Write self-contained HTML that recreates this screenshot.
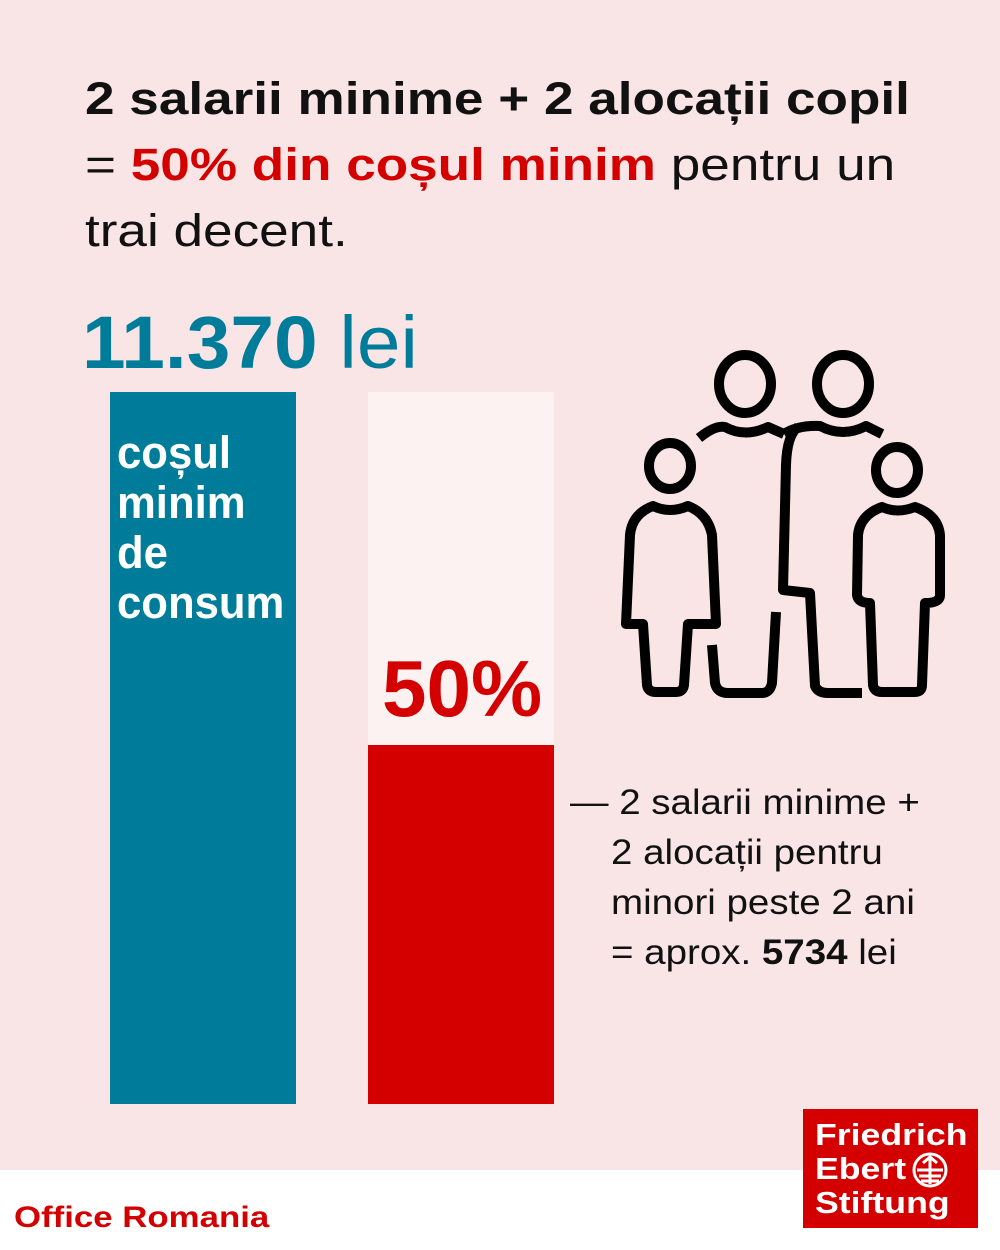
<!DOCTYPE html>
<html><head><meta charset="utf-8"><style>
body{margin:0;width:1000px;height:1250px;position:relative;background:#fff;font-family:"Liberation Sans",sans-serif;overflow:hidden}
.bg{position:absolute;left:0;top:0;width:1000px;height:1170px;background:#f9e5e5}
.a{position:absolute;white-space:nowrap;transform-origin:0 0}
</style></head><body>
<div class="bg"></div>
<div class="a" style="left:85px;top:66px;font-size:45px;line-height:66px;color:#111;transform:scaleX(1.18)">
<b>2 salarii minime + 2 alocații copil</b><br>= <b style="color:#d40000">50% din coșul minim</b> pentru un<br>trai decent.</div>
<div class="a" style="left:82px;top:300px;font-size:74px;line-height:86px;color:#007c9b;transform:scaleX(1.06)"><b>11.370</b> lei</div>
<div class="a" style="left:110px;top:392px;width:186px;height:712px;background:#007c9b"></div>
<div class="a" style="left:117px;top:428px;font-size:45px;line-height:50px;color:#fff;font-weight:bold;transform:scaleX(0.97)">coșul<br>minim<br>de<br>consum</div>
<div class="a" style="left:368px;top:392px;width:186px;height:353px;background:#fdf2f2"></div>
<div class="a" style="left:368px;top:745px;width:186px;height:359px;background:#d40000"></div>
<div class="a" style="left:382px;top:644px;font-size:80px;line-height:90px;color:#d40000;font-weight:bold">50%</div>
<div class="a" style="left:570px;top:778px;font-size:35px;line-height:50px;color:#111;transform:scaleX(1.1)">— 2 salarii minime +</div>
<div class="a" style="left:611px;top:828px;font-size:35px;line-height:50px;color:#111;transform:scaleX(1.1)">2 alocații pentru<br>minori peste 2 ani<br>= aprox. <b>5734</b> lei</div>
<svg class="a" style="left:0;top:0" width="1000" height="1250" fill="none" stroke="#000" stroke-width="10" stroke-linejoin="round">
<ellipse cx="745" cy="384" rx="26" ry="29"/><ellipse cx="843" cy="384" rx="26" ry="29"/>
<ellipse cx="670" cy="466" rx="21" ry="23"/><ellipse cx="897" cy="470" rx="21" ry="23"/>
<path d="M699,438 Q715,425 725,427 Q745,438 768,427 L784,434"/>
<path d="M784,434 Q798,425 820,426 Q843,438 866,426 L882,434"/>
<path d="M798,427 Q787,435 786,465 L783,590 L810,593 L815,686 Q818,693 828,693 L862,693"/>
<path d="M712,645 L715,683 Q717,693 728,693 L762,693 Q770,693 772,683 L776,612"/>
<path d="M653,506 Q632,514 630,535 L626,624 L643,624 L647,685 Q648,692 656,692 L676,692 Q683,692 684,685 L688,624 L716,624 L712,535 Q708,514 688,506 Q670,514 653,506 Z"/>
<path d="M882,507 Q860,515 858,535 L857,595 Q858,603 870,603 L873,685 Q874,692 882,692 L915,692 Q922,692 922,685 L925,603 Q940,603 940,595 L940,535 Q938,515 915,507 Q897,514 882,507 Z"/>
</svg>
<div class="a" style="left:803px;top:1109px;width:175px;height:119px;background:#d40000"></div>
<div class="a" style="left:815px;top:1118px;font-size:31px;line-height:34px;color:#fff;font-weight:bold;transform:scaleX(1.15)">Friedrich<br>Ebert<br>Stiftung</div>
<svg class="a" style="left:911px;top:1151px" width="40" height="40" fill="none" stroke="#fff" stroke-width="3"><circle cx="19" cy="19" r="16"/><path d="M19 5V33M6 19H32M8 25H30M10 30H28M12 12L19 6L26 12"/></svg>
<div class="a" style="left:14px;top:1198px;font-size:30px;line-height:40px;color:#d40000;font-weight:bold;transform:scaleX(1.16)">Office Romania</div>
</body></html>
